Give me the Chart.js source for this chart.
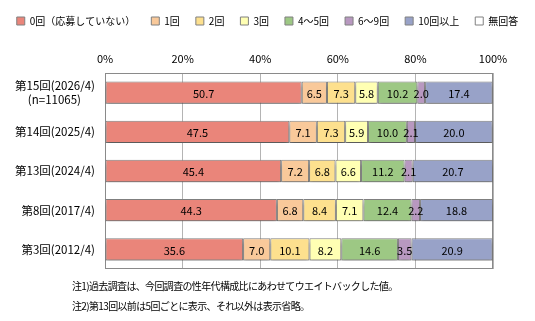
<!DOCTYPE html>
<html><head><meta charset="utf-8">
<script src="https://cdn.jsdelivr.net/npm/chart.js@4"></script>
<style>
html,body{margin:0;padding:0;background:#fff;}
#wrap{position:relative;width:535px;height:321px;}
.note{position:absolute;left:72px;font-family:"Noto Sans CJK JP";font-size:10px;letter-spacing:-0.65px;color:#000;white-space:nowrap;line-height:12px;}
</style></head><body>
<div id="wrap"><canvas id="c" width="535" height="321"></canvas>
<div class="note" style="top:280px">注1)過去調査は、今回調査の性年代構成比にあわせてウエイトバックした値。</div>
<div class="note" style="top:300px">注2)第13回以前は5回ごとに表示、それ以外は表示省略。</div>
</div>
<script>
const categories = [['第15回(2026/4)', '(n=11065)\u3000 '], '第14回(2025/4)', '第13回(2024/4)', '第8回(2017/4)', '第3回(2012/4)'];
const seriesNames = ['0回（応募していない）', '1回', '2回', '3回', '4～5回', '6～9回', '10回以上', '無回答'];
const v0 = [50.7, 47.5, 45.4, 44.3, 35.6];
const v1 = [6.5, 7.1, 7.2, 6.8, 7.0];
const v2 = [7.3, 7.3, 6.8, 8.4, 10.1];
const v3 = [5.8, 5.9, 6.6, 7.1, 8.2];
const v45 = [10.2, 10.0, 11.2, 12.4, 14.6];
const v69 = [2.0, 2.1, 2.1, 2.2, 3.5];
const v10 = [17.4, 20.0, 20.7, 18.8, 20.9];
const vNA = [0.1, 0.1, 0.0, 0.0, 0.1];
const xTicks = [0, 20, 40, 60, 80, 100];

const colors = ['#EA857A', '#F9C99A', '#FDE08E', '#FFFFB3', '#9DC884', '#B898C0', '#98A2C8', '#FFFFFF'];
const values = [v0, v1, v2, v3, v45, v69, v10, vNA];

const FONT = '"Noto Sans CJK JP", "Noto Sans", sans-serif';

const borderPlugin = {
  id: 'frame',
  beforeDatasetsDraw(chart) {
    const {ctx, chartArea: a} = chart;
    ctx.save();
    ctx.strokeStyle = '#8a8a8a';
    ctx.lineWidth = 1;
    ctx.strokeRect(Math.round(a.left) + 0.5, Math.round(a.top) + 0.5, Math.round(a.right - a.left) - 1, Math.round(a.bottom - a.top) - 1);
    ctx.restore();
    ctx.save();
    ctx.shadowColor = 'rgba(0,0,0,0.3)';
    ctx.shadowBlur = 4;
    ctx.shadowOffsetY = 4;
  },
  afterDatasetsDraw(chart) {
    const ctx = chart.ctx;
    ctx.restore();
    ctx.save();
    ctx.font = '11px ' + FONT;
    ctx.fillStyle = '#000';
    ctx.textAlign = 'center';
    ctx.textBaseline = 'middle';
    chart.data.datasets.forEach((ds, i) => {
      if (i === 7) return;
      const meta = chart.getDatasetMeta(i);
      meta.data.forEach((el, j) => {
        const v = ds.data[j];
        if (!v) return;
        ctx.fillText(v.toFixed(1), (el.x + el.base) / 2, el.y + 1);
      });
    });
    ctx.restore();
  }
};

new Chart(document.getElementById('c'), {
  type: 'bar',
  data: {
    labels: categories,
    datasets: seriesNames.map((n, i) => ({
      label: n,
      data: values[i],
      backgroundColor: colors[i],
      borderColor: '#808080',
      borderWidth: 1,
      borderSkipped: false,
      categoryPercentage: 1,
      barPercentage: 0.57
    }))
  },
  options: {
    indexAxis: 'y',
    responsive: false,
    animation: false,
    devicePixelRatio: 1,
    layout: {padding: {left: 0, right: 0, top: 0, bottom: 52}},
    plugins: {
      legend: {
        position: 'top',
        labels: {
          boxWidth: 8, boxHeight: 8, padding: 16,
          color: '#000',
          font: {size: 10, family: FONT}
        }
      },
      tooltip: {enabled: false}
    },
    scales: {
      x: {
        position: 'top',
        stacked: true,
        min: 0, max: 100,
        afterBuildTicks(scale) { scale.ticks = xTicks.map(v => ({value: v})); },
        afterFit(scale) { scale.height = 37; },
        ticks: {
          callback: v => v + '%',
          color: '#000',
          padding: 8,
          font: {size: 11, family: FONT}
        },
        grid: {color: '#b4b4b4', drawTicks: false},
        border: {display: false}
      },
      y: {
        stacked: true,
        afterFit(scale) { scale.width = 105; },
        ticks: {
          color: '#000',
          padding: 10,
          font: {size: 11.5, family: FONT, lineHeight: 1.3}
        },
        grid: {display: false, drawTicks: false},
        border: {display: false}
      },
      yr: {
        position: 'right',
        display: true,
        afterFit(scale) { scale.width = 42; },
        ticks: {display: false},
        grid: {display: false, drawTicks: false},
        border: {display: false}
      }
    }
  },
  plugins: [borderPlugin]
});
</script>
</body></html>
